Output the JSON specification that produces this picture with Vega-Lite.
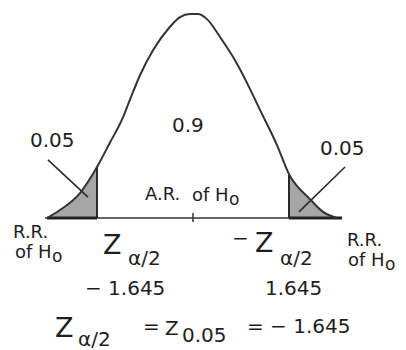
{
  "$schema": "https://vega.github.io/schema/vega-lite/v6.json",
  "width": 406,
  "height": 350,
  "padding": 0,
  "autosize": {"type": "none"},
  "background": "white",
  "config": {"view": {"stroke": null}, "text": {"font": "DejaVu Sans", "color": "#1e1e1e", "align": "left", "baseline": "alphabetic"}},
  "datasets": {
    "curve": [
      {"z": -2.502, "d": 0.0},
      {"z": -2.279, "d": 0.0157},
      {"z": -1.936, "d": 0.049},
      {"z": -1.645, "d": 0.1},
      {"z": -1.422, "d": 0.148},
      {"z": -1.217, "d": 0.193},
      {"z": -1.08, "d": 0.232},
      {"z": -0.908, "d": 0.28},
      {"z": -0.685, "d": 0.329},
      {"z": -0.394, "d": 0.375},
      {"z": -0.223, "d": 0.394},
      {"z": -0.051, "d": 0.4},
      {"z": 0.086, "d": 0.4},
      {"z": 0.24, "d": 0.39},
      {"z": 0.463, "d": 0.355},
      {"z": 0.685, "d": 0.316},
      {"z": 0.925, "d": 0.265},
      {"z": 1.148, "d": 0.212},
      {"z": 1.439, "d": 0.143},
      {"z": 1.645, "d": 0.086},
      {"z": 2.005, "d": 0.037},
      {"z": 2.228, "d": 0.012},
      {"z": 2.467, "d": 0.0}
    ],
    "axisLine": [{"z": -2.536, "z2": 2.553, "d": 0}],
    "rejection": [
      {"z": -2.5, "z2": -1.645, "d": 0},
      {"z": 1.645, "z2": 2.553, "d": 0}
    ],
    "critical": [
      {"z": -1.645, "d": 0, "d2": 0.1},
      {"z": 1.645, "d": 0, "d2": 0.086}
    ],
    "centre": [{"z": 0, "d": 0.01, "d2": -0.008}],
    "leaders": [
      {"z": -2.485, "d": 0.114, "z2": -1.799, "d2": 0.041},
      {"z": 2.605, "d": 0.1, "z2": 1.816, "d2": 0.012}
    ],
    "labels": [
      {"t": "0.05", "role": "value", "z": -2.793, "d": 0.139},
      {"t": "0.9", "role": "value", "z": -0.36, "d": 0.169},
      {"t": "0.05", "role": "value", "z": 2.176, "d": 0.1235},
      {"t": "− 1.645", "role": "value", "z": -1.851, "d": -0.151},
      {"t": "1.645", "role": "value", "z": 1.234, "d": -0.151},
      {"t": "−", "role": "value", "z": 0.668, "d": -0.053},
      {"t": "=", "role": "value", "z": -0.857, "d": -0.2255},
      {"t": "Z", "role": "value", "z": -0.48, "d": -0.229},
      {"t": "= − 1.645", "role": "value", "z": 0.925, "d": -0.2255},
      {"t": "Z", "role": "symbol", "z": -1.542, "d": -0.0706},
      {"t": "Z", "role": "symbol", "z": 1.062, "d": -0.0667},
      {"t": "Z", "role": "symbol", "z": -2.365, "d": -0.233},
      {"t": "α/2", "role": "index", "z": -1.114, "d": -0.092},
      {"t": "α/2", "role": "index", "z": 1.491, "d": -0.092},
      {"t": "α/2", "role": "index", "z": -1.971, "d": -0.251},
      {"t": "0.05", "role": "index", "z": -0.188, "d": -0.243},
      {"t": "R.R.", "role": "region", "z": -3.084, "d": -0.039},
      {"t": "of H", "role": "region", "z": -3.05, "d": -0.0784},
      {"t": "o", "role": "sub", "z": -2.416, "d": -0.0863},
      {"t": "R.R.", "role": "region", "z": 2.639, "d": -0.055},
      {"t": "of H", "role": "region", "z": 2.656, "d": -0.0942},
      {"t": "o", "role": "sub", "z": 3.29, "d": -0.102},
      {"t": "A.R.", "role": "region", "z": -0.822, "d": 0.0353},
      {"t": "of H", "role": "region", "z": -0.017, "d": 0.0333},
      {"t": "o", "role": "sub", "z": 0.617, "d": 0.0255}
    ]
  },
  "encoding": {
    "x": {"field": "z", "type": "quantitative", "axis": null,
          "scale": {"domain": [-3.307, 3.65], "nice": false, "zero": false}},
    "y": {"field": "d", "type": "quantitative", "axis": null,
          "scale": {"domain": [-0.2588, 0.4275], "nice": false, "zero": false}}
  },
  "layer": [
    {
      "data": {"name": "curve"},
      "transform": [{"filter": "datum.z <= -1.645"}],
      "mark": {"type": "area", "color": "#a6a6a6", "interpolate": "monotone"},
      "encoding": {}
    },
    {
      "data": {"name": "curve"},
      "transform": [{"filter": "datum.z >= 1.645"}],
      "mark": {"type": "area", "color": "#a6a6a6", "interpolate": "monotone"},
      "encoding": {}
    },
    {
      "data": {"name": "axisLine"},
      "mark": {"type": "rule", "color": "#333333", "strokeWidth": 1.6},
      "encoding": {"x2": {"field": "z2"}}
    },
    {
      "data": {"name": "rejection"},
      "mark": {"type": "rule", "color": "#222222", "strokeWidth": 3},
      "encoding": {"x2": {"field": "z2"}}
    },
    {
      "data": {"name": "critical"},
      "mark": {"type": "rule", "color": "#2a2a2a", "strokeWidth": 2},
      "encoding": {"y2": {"field": "d2"}}
    },
    {
      "data": {"name": "centre"},
      "mark": {"type": "rule", "color": "#333333", "strokeWidth": 1.5},
      "encoding": {"y2": {"field": "d2"}}
    },
    {
      "data": {"name": "leaders"},
      "mark": {"type": "rule", "color": "#2a2a2a", "strokeWidth": 1.6},
      "encoding": {"x2": {"field": "z2"}, "y2": {"field": "d2"}}
    },
    {
      "data": {"name": "curve"},
      "mark": {"type": "line", "color": "#333333", "strokeWidth": 2, "interpolate": "monotone"},
      "encoding": {}
    },
    {
      "data": {"name": "labels"},
      "transform": [{"filter": "datum.role == 'value'"}],
      "mark": {"type": "text", "fontSize": 20},
      "encoding": {"text": {"field": "t"}}
    },
    {
      "data": {"name": "labels"},
      "transform": [{"filter": "datum.role == 'symbol'"}],
      "mark": {"type": "text", "fontSize": 27},
      "encoding": {"text": {"field": "t"}}
    },
    {
      "data": {"name": "labels"},
      "transform": [{"filter": "datum.role == 'index'"}],
      "mark": {"type": "text", "fontSize": 20},
      "encoding": {"text": {"field": "t"}}
    },
    {
      "data": {"name": "labels"},
      "transform": [{"filter": "datum.role == 'region'"}],
      "mark": {"type": "text", "fontSize": 18},
      "encoding": {"text": {"field": "t"}}
    },
    {
      "data": {"name": "labels"},
      "transform": [{"filter": "datum.role == 'sub'"}],
      "mark": {"type": "text", "fontSize": 17},
      "encoding": {"text": {"field": "t"}}
    }
  ]
}
